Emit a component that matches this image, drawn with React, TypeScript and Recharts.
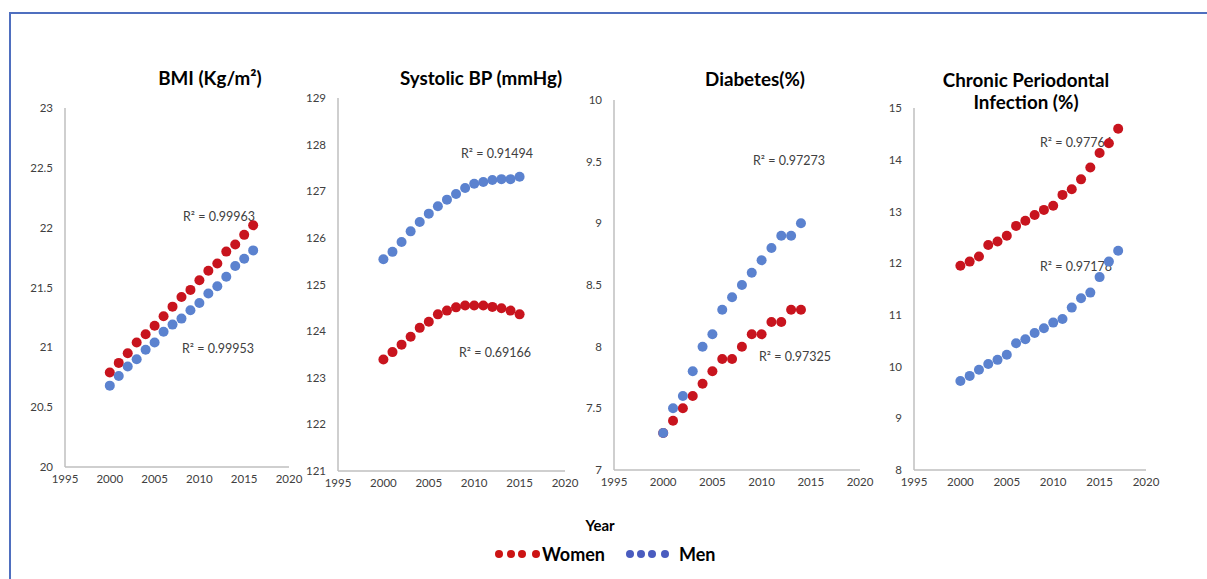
import React from 'react';
import { ScatterChart, Scatter, XAxis, YAxis } from 'recharts';

const years = [2000, 2001, 2002, 2003, 2004, 2005, 2006, 2007, 2008, 2009, 2010, 2011, 2012, 2013, 2014, 2015, 2016, 2017];
const yearTicks = [1995, 2000, 2005, 2010, 2015, 2020];

const bmiWomen = [20.79, 20.87, 20.95, 21.04, 21.11, 21.18, 21.26, 21.34, 21.42, 21.48, 21.56, 21.64, 21.7, 21.8, 21.86, 21.94, 22.02];
const bmiMen = [20.68, 20.76, 20.84, 20.9, 20.98, 21.04, 21.13, 21.19, 21.24, 21.31, 21.37, 21.45, 21.51, 21.59, 21.68, 21.74, 21.81];
const bmiTicks = [20, 20.5, 21, 21.5, 22, 22.5, 23];

const sbpWomen = [123.39, 123.55, 123.71, 123.88, 124.07, 124.2, 124.36, 124.44, 124.51, 124.55, 124.55, 124.55, 124.52, 124.49, 124.44, 124.36];
const sbpMen = [125.54, 125.7, 125.91, 126.14, 126.34, 126.52, 126.68, 126.82, 126.94, 127.07, 127.16, 127.2, 127.24, 127.26, 127.26, 127.31];
const sbpTicks = [121, 122, 123, 124, 125, 126, 127, 128, 129];

const diabetesWomen = [7.3, 7.4, 7.5, 7.6, 7.7, 7.8, 7.9, 7.9, 8.0, 8.1, 8.1, 8.2, 8.2, 8.3, 8.3];
const diabetesMen = [7.3, 7.5, 7.6, 7.8, 8.0, 8.1, 8.3, 8.4, 8.5, 8.6, 8.7, 8.8, 8.9, 8.9, 9.0];
const diabetesTicks = [7, 7.5, 8, 8.5, 9, 9.5, 10];

const cpiWomen = [11.95, 12.03, 12.13, 12.35, 12.42, 12.53, 12.72, 12.82, 12.93, 13.03, 13.11, 13.32, 13.43, 13.62, 13.85, 14.13, 14.32, 14.6];
const cpiMen = [9.72, 9.82, 9.94, 10.05, 10.13, 10.23, 10.45, 10.53, 10.65, 10.74, 10.85, 10.92, 11.14, 11.32, 11.43, 11.73, 12.03, 12.24];
const cpiTicks = [8, 9, 10, 11, 12, 13, 14, 15];

const r2Labels = {
  bmi: ['R² = 0.99963', 'R² = 0.99953'],
  sbp: ['R² = 0.91494', 'R² = 0.69166'],
  diabetes: ['R² = 0.97273', 'R² = 0.97325'],
  cpi: ['R² = 0.97764', 'R² = 0.97178'],
};

const WOMEN = '#c8141e';
const MEN = '#5b82cf';
const FONT = 'Lato, "Open Sans", sans-serif';

const toPoints = (values: number[]) => values.map((v, i) => ({ year: years[i], value: v }));

const Dot = (props: any) => <circle cx={props.cx} cy={props.cy} r={5} fill={props.fill} />;

type Panel = {
  title: string[];
  titleX: number;
  titleY: number;
  women: number[];
  men: number[];
  yTicks: number[];
  box: { left: number; top: number; right: number; bottom: number };
  labels: string[];
  labelPos: { x: number; y: number }[];
};

const panels: Panel[] = [
  {
    title: ['BMI (Kg/m²)'], titleX: 210, titleY: 78, women: bmiWomen, men: bmiMen, yTicks: bmiTicks,
    box: { left: 65, top: 108, right: 289, bottom: 467 },
    labels: r2Labels.bmi, labelPos: [{ x: 183, y: 217 }, { x: 182, y: 349 }],
  },
  {
    title: ['Systolic BP (mmHg)'], titleX: 481, titleY: 78, women: sbpWomen, men: sbpMen, yTicks: sbpTicks,
    box: { left: 338, top: 98, right: 565, bottom: 471 },
    labels: r2Labels.sbp, labelPos: [{ x: 461, y: 154 }, { x: 459, y: 353 }],
  },
  {
    title: ['Diabetes(%)'], titleX: 755, titleY: 79, women: diabetesWomen, men: diabetesMen, yTicks: diabetesTicks,
    box: { left: 614, top: 100, right: 860, bottom: 470 },
    labels: r2Labels.diabetes, labelPos: [{ x: 753, y: 161 }, { x: 759, y: 357 }],
  },
  {
    title: ['Chronic Periodontal', 'Infection (%)'], titleX: 1026, titleY: 80, women: cpiWomen, men: cpiMen, yTicks: cpiTicks,
    box: { left: 914, top: 108, right: 1146, bottom: 470 },
    labels: r2Labels.cpi, labelPos: [{ x: 1040, y: 143 }, { x: 1040, y: 267 }],
  },
];

const tickStyle = { fontSize: 11.5, fill: '#404040', fontFamily: FONT };

function PanelChart({ p }: { p: Panel }) {
  const ml = 60;
  const mt = 10;
  const w = p.box.right - p.box.left + ml + 20;
  const h = p.box.bottom - p.box.top + mt + 30;
  const yDomain = [p.yTicks[0], p.yTicks[p.yTicks.length - 1]];
  return (
    <>
      <div
        style={{
          position: 'absolute', left: p.titleX - 150, width: 300, top: p.titleY - 11, textAlign: 'center',
          fontFamily: FONT, fontWeight: 700, fontSize: 18.8, lineHeight: '22px', color: '#000',
        }}
      >
        {p.title.map((t) => <div key={t}>{t}</div>)}
      </div>
      {p.labels.map((l, i) => (
        <div
          key={l}
          style={{
            position: 'absolute', left: p.labelPos[i].x, top: p.labelPos[i].y - 8, fontFamily: FONT,
            fontSize: 12.5, lineHeight: '16px', color: '#404040', whiteSpace: 'nowrap',
          }}
        >
          {l}
        </div>
      ))}
      <div style={{ position: 'absolute', left: p.box.left - ml, top: p.box.top - mt }}>
        <ScatterChart width={w} height={h} margin={{ top: mt, right: 20, bottom: 0, left: 0 }}>
          <XAxis
            type="number"
            dataKey="year"
            domain={[1995, 2020]}
            ticks={yearTicks}
            tickLine={false}
            axisLine={{ stroke: '#bfbfbf', strokeWidth: 1.5 }}
            tick={tickStyle}
            height={30}
            interval={0}
          />
          <YAxis
            type="number"
            dataKey="value"
            domain={yDomain}
            ticks={p.yTicks}
            tickLine={false}
            axisLine={{ stroke: '#bfbfbf', strokeWidth: 1.5 }}
            tick={tickStyle}
            tickMargin={6}
            width={ml}
            interval={0}
          />
          <Scatter data={toPoints(p.women)} fill={WOMEN} shape={Dot} isAnimationActive={false} />
          <Scatter data={toPoints(p.men)} fill={MEN} shape={Dot} isAnimationActive={false} />
        </ScatterChart>
      </div>
    </>
  );
}

const legendDot = (color: string, x: number) => (
  <div key={x} style={{ position: 'absolute', left: x - 4, top: 550, width: 8, height: 8, borderRadius: 4, background: color }} />
);

export default function App() {
  return (
    <div style={{ position: 'absolute', left: 0, top: 0, width: 1207, height: 579, background: '#fff', overflow: 'hidden' }}>
      <div style={{ position: 'absolute', left: 9, top: 12, right: -10, bottom: -10, borderTop: '2px solid #4f6fbf', borderLeft: '2px solid #4f6fbf' }} />
      {panels.map((p) => <PanelChart key={p.title[0]} p={p} />)}
      <div style={{ position: 'absolute', left: 550, width: 100, top: 515, textAlign: 'center', fontFamily: FONT, fontWeight: 700, fontSize: 15, lineHeight: '20px' }}>
        Year
      </div>
      {[499, 511, 522, 536].map((x) => legendDot('#cc1414', x))}
      <div style={{ position: 'absolute', left: 542, top: 543, fontFamily: FONT, fontWeight: 700, fontSize: 18, lineHeight: '22px' }}>Women</div>
      {[630, 641, 652, 665].map((x) => legendDot('#4a5cbf', x))}
      <div style={{ position: 'absolute', left: 679, top: 543, fontFamily: FONT, fontWeight: 700, fontSize: 18, lineHeight: '22px' }}>Men</div>
    </div>
  );
}
